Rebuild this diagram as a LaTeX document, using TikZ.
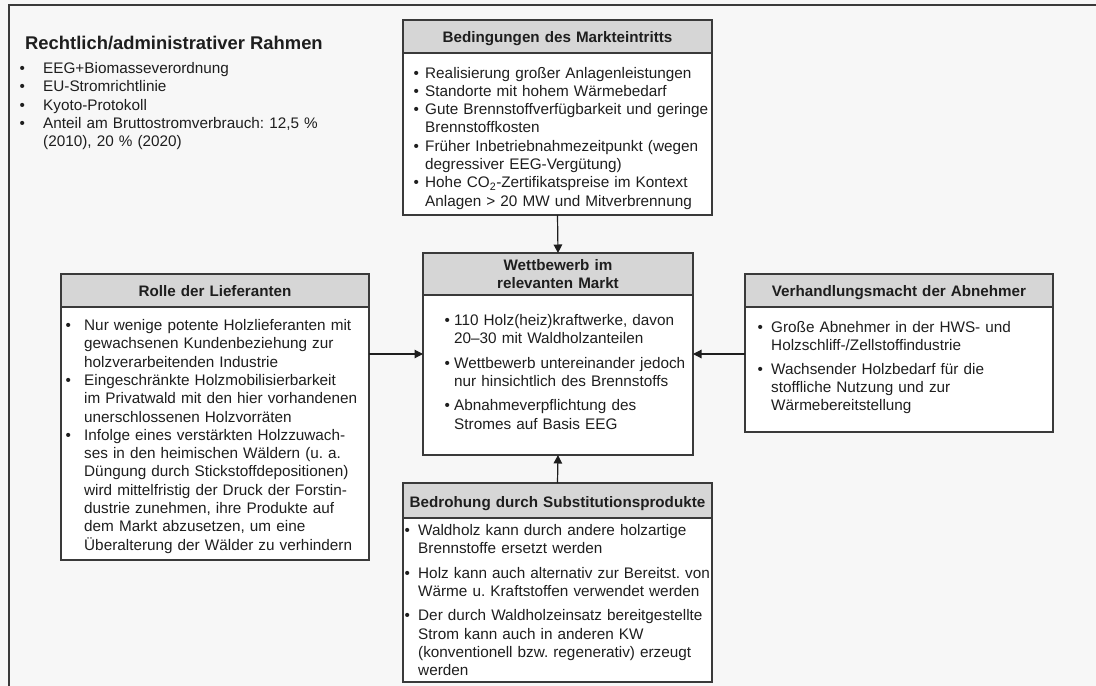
\documentclass[tikz,border=0pt]{standalone}
\usepackage{fontspec}
\setmainfont{Liberation Sans}
\usetikzlibrary{arrows.meta}
\frenchspacing
\definecolor{bg}{HTML}{F7F7F7}
\definecolor{hdr}{HTML}{D6D6D6}
\definecolor{ink}{HTML}{1E1E1E}
\definecolor{framec}{HTML}{3A3A3A}
\newlength\bhang
\newlength\boff
\newcommand\bitem[1]{\par\hangindent=\bhang\hangafter=1\noindent\hbox to\bhang{\hskip\boff\textbullet\hss}\ignorespaces#1}
\newcommand\bgap[1]{\par\vspace{#1}}
\newcommand\nl{\newline}
\tikzset{
  box/.style={draw=framec, line width=1.4pt, fill=white, inner sep=0pt, outer sep=0pt},
  hbox/.style={draw=framec, line width=1.4pt, fill=hdr, inner sep=0pt, outer sep=0pt},
  body/.style={anchor=base west, inner sep=0pt, text width=380pt, font=\fontsize{15.3}{18.3}\selectfont\frenchspacing, text=ink, align=left},
  htext/.style={anchor=base, inner sep=0pt, text width=300pt, font=\bfseries\fontsize{15.2}{18}\selectfont, text=ink, align=center},
  arr/.style={draw=ink, line width=1.2pt, -{Triangle[length=8.5pt,width=8.5pt]}},
}
\begin{document}
\begin{tikzpicture}[x=1pt,y=-1pt]
\fill[bg] (0,0) rectangle (1096,686);
\useasboundingbox (0,0) rectangle (1096,686);
\draw[framec, line width=2pt] (1096,5) -- (9,5) -- (9,686);

% top-left legal frame
\node[anchor=base west, inner sep=0pt, font=\bfseries\fontsize{18.4}{22}\selectfont, text=ink] (rt) at (25,49.5) {Rechtlich/administrativer Rahmen};
\node[body] (rl) at (9,55.2) {\setlength\bhang{34pt}\setlength\boff{10.3pt}%
\bitem{EEG+Biomasseverordnung}
\bitem{EU-Stromrichtlinie}
\bitem{Kyoto-Protokoll}
\bitem{Anteil am Bruttostromverbrauch: 12,5 \%\nl(2010), 20 \% (2020)}\par};

% top box
\node[box, minimum width=309pt, minimum height=195pt] (mkt) at (557.5,117.5) {};
\node[hbox, minimum width=309pt, minimum height=33pt, anchor=north] (mkth) at (mkt.north) {};
\node[htext] (mktt) at (557.5,42.5) {Bedingungen des Markteintritts};
\node[body] (mktb) at (403,59.7) {\setlength\bhang{22pt}\setlength\boff{10.3pt}%
\bitem{Realisierung großer Anlagenleistungen}
\bitem{Standorte mit hohem Wärmebedarf}
\bitem{Gute Brennstoffverfügbarkeit und geringe\nl Brennstoffkosten}
\bitem{Früher Inbetriebnahmezeitpunkt (wegen\nl degressiver EEG-Vergütung)}
\bitem{Hohe CO\textsubscript{2}-Zertifikatspreise im Kontext\nl Anlagen > 20 MW und Mitverbrennung}\par};

% center box
\node[box, minimum width=270pt, minimum height=202pt] (wb) at (558,354) {};
\node[hbox, minimum width=270pt, minimum height=42pt, anchor=north] (wbh) at (wb.north) {};
\node[htext] (wbt) at (558,270.5) {Wettbewerb im\\relevanten Markt};
\node[body] (wbb) at (423,307.2) {\setlength\bhang{31pt}\setlength\boff{21.3pt}%
\bitem{110 Holz(heiz)kraftwerke, davon\nl 20–30 mit Waldholzanteilen}\bgap{6pt}
\bitem{Wettbewerb untereinander jedoch\nl nur hinsichtlich des Brennstoffs}\bgap{6pt}
\bitem{Abnahmeverpflichtung des\nl Stromes auf Basis EEG}\par};

% left box
\node[box, minimum width=308pt, minimum height=286pt] (lief) at (215,417) {};
\node[hbox, minimum width=308pt, minimum height=33pt, anchor=north] (liefh) at (lief.north) {};
\node[htext] (lieft) at (215,296.5) {Rolle der Lieferanten};
\node[body] (liefb) at (61,312.2) {\setlength\bhang{23pt}\setlength\boff{4.3pt}%
\bitem{Nur wenige potente Holzlieferanten mit\nl gewachsenen Kundenbeziehung zur\nl holzverarbeitenden Industrie}
\bitem{Eingeschränkte Holzmobilisierbarkeit\nl im Privatwald mit den hier vorhandenen\nl unerschlossenen Holzvorräten}
\bitem{Infolge eines verstärkten Holzzuwach-\nl ses in den heimischen Wäldern (u.~a.\nl Düngung durch Stickstoffdepositionen)\nl wird mittelfristig der Druck der Forstin-\nl dustrie zunehmen, ihre Produkte auf\nl dem Markt abzusetzen, um eine\nl Überalterung der Wälder zu verhindern}\par};

% right box
\node[box, minimum width=308pt, minimum height=158pt] (abn) at (899,353) {};
\node[hbox, minimum width=308pt, minimum height=33pt, anchor=north] (abnh) at (abn.north) {};
\node[htext] (abnt) at (899,296.5) {Verhandlungsmacht der Abnehmer};
\node[body] (abnb) at (745,314.2) {\setlength\bhang{26pt}\setlength\boff{12.3pt}%
\bitem{Große Abnehmer in der HWS- und\nl Holzschliff-/Zellstoffindustrie}\bgap{5pt}
\bitem{Wachsender Holzbedarf für die\nl stoffliche Nutzung und zur\nl Wärmebereitstellung}\par};

% bottom box
\node[box, minimum width=309pt, minimum height=199pt] (sub) at (557.5,582.5) {};
\node[hbox, minimum width=309pt, minimum height=35pt, anchor=north] (subh) at (sub.north) {};
\node[htext] (subt) at (557.5,507.5) {Bedrohung durch Substitutionsprodukte};
\node[body] (subb) at (403,517.2) {\setlength\bhang{15pt}\setlength\boff{1.3pt}%
\bitem{Waldholz kann durch andere holzartige\nl Brennstoffe ersetzt werden}\bgap{6pt}
\bitem{Holz kann auch alternativ zur Bereitst. von\nl Wärme u. Kraftstoffen verwendet werden}\bgap{6pt}
\bitem{Der durch Waldholzeinsatz bereitgestellte\nl Strom kann auch in anderen KW\nl (konventionell bzw. regenerativ) erzeugt\nl werden}\par};

% connectors
\draw[arr] (mkt.south) -- (wb.north);
\draw[arr] (sub.north) -- (wb.south);
\draw[arr] (wb.west -| lief.east) -- (wb.west);
\draw[arr] (wb.east -| abn.west) -- (wb.east);
\end{tikzpicture}
\end{document}
